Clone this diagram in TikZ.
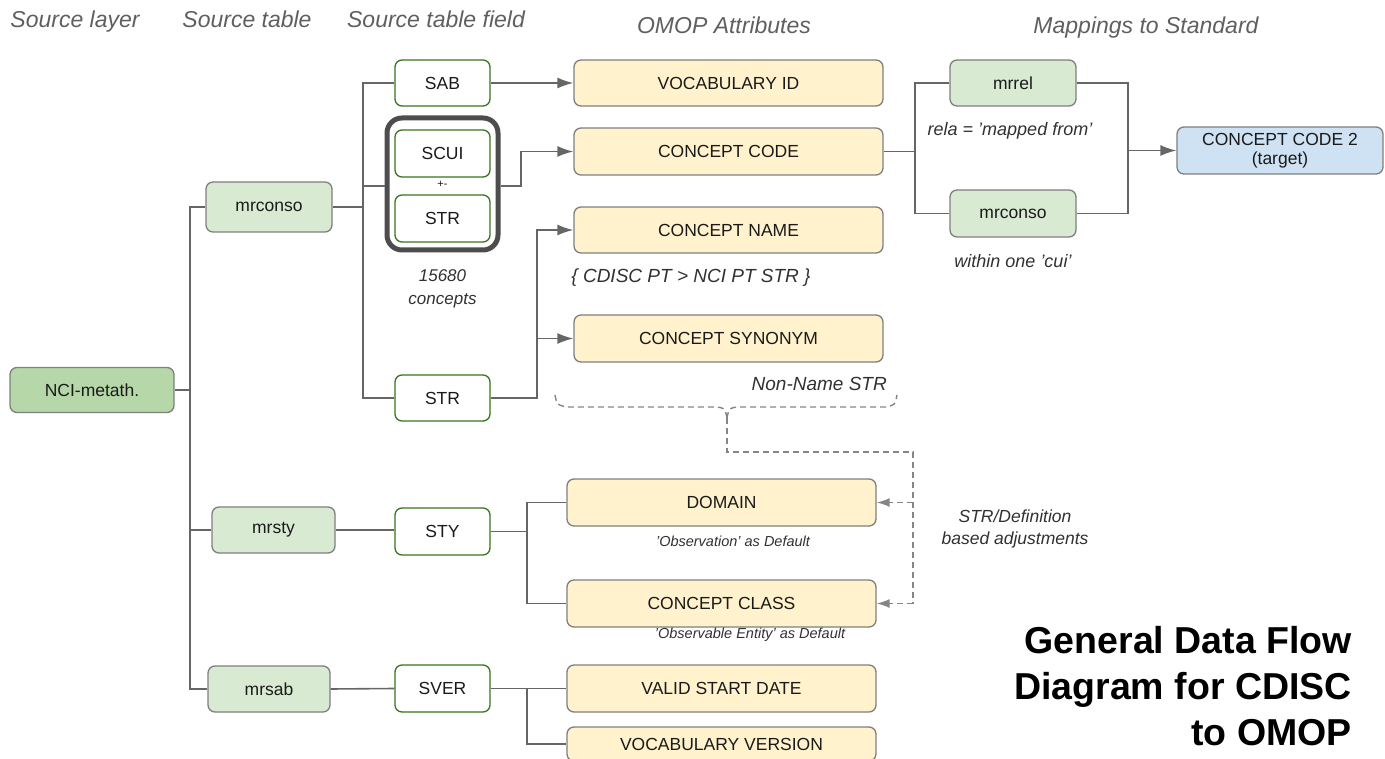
\documentclass[tikz,border=0pt]{standalone}
\usepackage{fontspec}
\setmainfont{Liberation Sans}
\usetikzlibrary{arrows.meta}
\definecolor{dkgreen}{HTML}{B6D7A8}
\definecolor{ltgreen}{HTML}{D9EAD3}
\definecolor{ylw}{HTML}{FFF2CC}
\definecolor{blu}{HTML}{CFE2F3}
\definecolor{bord}{HTML}{7F7F7F}
\definecolor{fldbord}{HTML}{38761D}
\definecolor{linec}{HTML}{666666}
\definecolor{hdr}{HTML}{5F5F5F}
\definecolor{txt}{HTML}{1A1A1A}
\definecolor{grpc}{HTML}{4D4D4D}
\begin{document}
\begin{tikzpicture}[x=1pt,y=-1pt,
  box/.style={draw=bord, line width=1.3pt, rounded corners=7pt, inner sep=0pt, anchor=center, text=txt,
    font=\fontsize{17.5}{20}\selectfont},
  dkbox/.style={box, fill=dkgreen},
  gbox/.style={box, fill=ltgreen},
  fbox/.style={box, draw=fldbord, fill=white},
  ybox/.style={box, fill=ylw},
  bbox/.style={box, fill=blu, align=center, font=\fontsize{17.5}{19}\selectfont},
  grpbox/.style={draw=grpc, line width=5pt, rounded corners=15pt, inner sep=0pt, anchor=center},
  conn/.style={draw=linec, line width=1.6pt},
  arr/.style={conn, -{Latex[length=16pt,width=11pt]}, color=linec},
  darr/.style={draw=linec!80, line width=1.4pt, dash pattern=on 6pt off 4pt, -{Latex[length=13pt,width=9pt]}},
  dline/.style={draw=linec!80, line width=1.4pt, dash pattern=on 6pt off 4pt},
  head/.style={text=hdr, font=\fontsize{23}{26}\selectfont\itshape, anchor=base, inner sep=0pt},
  note/.style={text=txt!90, font=\fontsize{18}{21}\selectfont\itshape, inner sep=0pt},
  snote/.style={text=txt!90, font=\fontsize{14.5}{17}\selectfont\itshape, inner sep=0pt},
  title/.style={text=black, font=\fontsize{37.5}{46}\selectfont\bfseries, align=right, anchor=north east, inner sep=0pt}
]
\useasboundingbox (0,0) rectangle (1385,759);

% headers
\node[head] (h1) at (75,28) {Source layer};
\node[head] (h2) at (247,28) {Source table};
\node[head] (h3) at (436,28) {Source table field};
\node[head] (h4) at (724,34) {OMOP Attributes};
\node[head] (h5) at (1146,34) {Mappings to Standard};

% source layer / tables
\node[dkbox, minimum width=164pt, minimum height=45pt] (nci) at (92,390) {NCI-metath.};
\node[gbox, minimum width=126pt, minimum height=50pt] (mrconso) at (269,207) {mrconso};
\node[gbox, minimum width=123pt, minimum height=46pt] (mrsty) at (273.5,530) {mrsty};
\node[gbox, minimum width=122pt, minimum height=46pt] (mrsab) at (269,689) {mrsab};

% fields
\node[fbox, minimum width=95pt, minimum height=46pt] (sab) at (442.5,83) {SAB};
\node[grpbox, minimum width=111pt, minimum height=132pt] (grp) at (442.5,184) {};
\node[fbox, minimum width=95pt, minimum height=47pt] (scui) at (442.5,153.5) {SCUI};
\node[fbox, minimum width=95pt, minimum height=47pt] (str1) at (442.5,218.5) {STR};
\node[text=txt, font=\fontsize{11}{12}\selectfont, inner sep=0pt] (pm) at (442.5,184) {+-};
\node[fbox, minimum width=95pt, minimum height=46pt] (str2) at (442.5,398) {STR};
\node[fbox, minimum width=95pt, minimum height=47pt] (sty) at (442.5,531.5) {STY};
\node[fbox, minimum width=95pt, minimum height=47pt] (sver) at (442.5,688.5) {SVER};
\node[note, align=center, font=\fontsize{17}{23}\selectfont\itshape] (cnt) at (442.5,289) {15680\\concepts};

% OMOP attributes
\node[ybox, minimum width=309pt, minimum height=46pt] (vocid) at (728.5,83) {VOCABULARY ID};
\node[ybox, minimum width=309pt, minimum height=47pt] (ccode) at (728.5,151.5) {CONCEPT CODE};
\node[ybox, minimum width=309pt, minimum height=46pt] (cname) at (728.5,230) {CONCEPT NAME};
\node[ybox, minimum width=309pt, minimum height=47pt] (csyn) at (728.5,338.5) {CONCEPT SYNONYM};
\node[ybox, minimum width=309pt, minimum height=47pt] (domain) at (721.5,502.5) {DOMAIN};
\node[ybox, minimum width=309pt, minimum height=47pt] (cclass) at (721.5,603.5) {CONCEPT CLASS};
\node[ybox, minimum width=309pt, minimum height=47pt] (vsd) at (721.5,688.5) {VALID START DATE};
\node[ybox, minimum width=309pt, minimum height=34pt] (vocver) at (721.5,744) {VOCABULARY VERSION};

\node[note, font=\fontsize{19}{22}\selectfont\itshape] (cdisc) at (691,278) {\{ CDISC PT > NCI PT STR \}};
\node[note, font=\fontsize{19}{22}\selectfont\itshape, anchor=east] (nonname) at (887,384) {Non-Name STR};
\node[snote] (obs) at (733,541) {'Observation' as Default};
\node[snote] (obse) at (750,635) {'Observable Entity' as Default};
\node[note, align=center, font=\fontsize{17.5}{22}\selectfont\itshape] (adj) at (1015,529) {STR/Definition\\based adjustments};

% mappings
\node[gbox, minimum width=126pt, minimum height=46pt] (mrrel) at (1013,83) {mrrel};
\node[gbox, minimum width=126pt, minimum height=47pt] (mrconso2) at (1013,213.5) {mrconso};
\node[bbox, minimum width=206pt, minimum height=47pt] (cc2) at (1280,150.5) {CONCEPT CODE 2\\(target)};
\node[note] (rela) at (1010,131) {rela = 'mapped from'};
\node[note] (within) at (1013,261) {within one 'cui'};

% title
\node[title] (ttl) at (1352,626) {General Data Flow\\Diagram for CDISC\\to OMOP};

% connectors: source layer -> tables
\coordinate (t1) at (190,390);
\draw[conn] (nci.east) -- (t1);
\draw[conn] (mrconso.west) -| (t1) |- (mrsab.west);
\draw[conn] (t1) |- (mrsty.west);

% mrconso -> fields
\coordinate (t2) at (363,207);
\coordinate (gl) at (363,186);
\draw[conn] (mrconso.east) -- (t2);
\draw[conn] (sab.west) -| (t2 |- str2.west) -- (str2.west);
\draw[conn] (gl) -- (gl -| grp.west);
\draw[arr] (sab.east) -- (vocid.west);
\draw[arr] (grp.east |- gl) -- (521,186) |- (ccode.west);
\draw[arr] (str2.east) -- (537,398) |- (cname.west);
\draw[arr] (537,338.5) -- (csyn.west);

% mappings
\draw[conn] (ccode.east) -- (915,151.5);
\draw[conn] (mrrel.west) -| (915,213.5) -- (mrconso2.west);
\draw[conn] (mrrel.east) -| (1128,213.5) -- (mrconso2.east);
\draw[arr] (1128,150.5) -- (cc2.west);

% mrsty
\draw[conn] (mrsty.east) -- (mrsty.east -| sty.west);
\draw[conn] (sty.east) -- (527,531.5);
\draw[conn] (domain.west) -| (527,603.5) -- (cclass.west);

% mrsab
\draw[conn] (mrsab.east) -- (sver.west);
\draw[conn] (sver.east) -- (vsd.west);
\draw[conn] (527,688.5) |- (vocver.west);

% dashed brace and adjustments
\draw[dline] (555,395) .. controls (557,405) .. (567,407) -- (716,407) .. controls (725,408) .. (727,418);
\draw[dline] (727,418) .. controls (729,408) .. (738,407) -- (886,407) .. controls (895,405) .. (897,395);
\draw[dline] (727,418) -- (727,452) -- (913,452) -- (913,603.5);
\draw[darr] (913,603.5) -- (cclass.east);
\draw[darr] (913,502.5) -- (domain.east);
\end{tikzpicture}
\end{document}
